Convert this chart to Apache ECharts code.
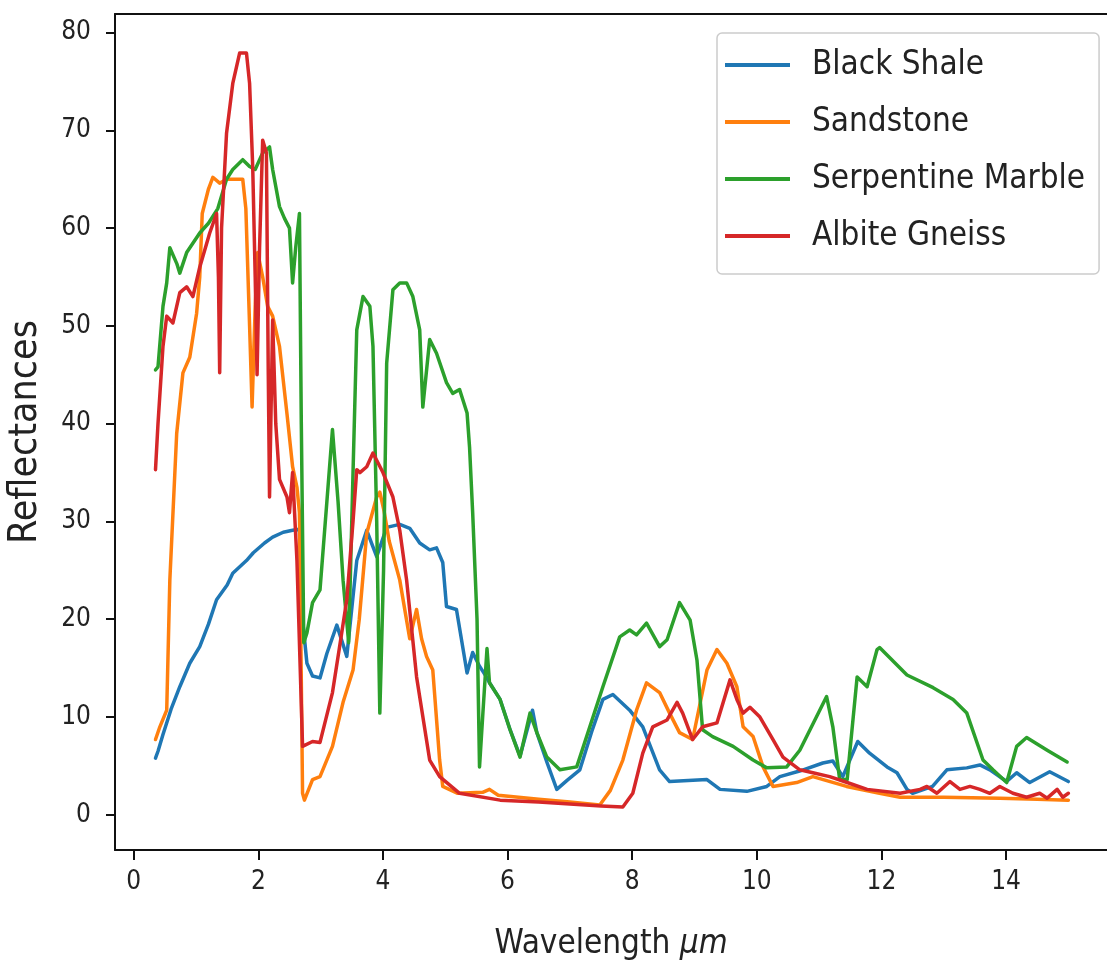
<!DOCTYPE html>
<html>
<head>
<meta charset="utf-8">
<title>Reflectance spectra</title>
<script src="https://cdn.jsdelivr.net/npm/echarts@6/dist/echarts.min.js"></script>
<style>
  html, body { margin: 0; padding: 0; background: #fff; }
  #chart { width: 1107px; height: 975px; }
</style>
</head>
<body>
<div id="chart"></div>
<script>
// Spectral reflectance (%) against wavelength (µm), one [wavelength, reflectance] list per rock.
const blackShale = [
  [0.35,5.8],[0.39,6.5],[0.47,8.2],[0.6,10.8],[0.74,13.1],[0.9,15.5],[1.06,17.2],[1.2,19.5],
  [1.33,22],[1.5,23.5],[1.59,24.7],[1.81,26],[1.92,26.8],[2.1,27.8],[2.23,28.4],[2.4,28.9],
  [2.55,29.1],[2.66,29.2],[2.71,20],[2.78,15.5],[2.87,14.2],[2.99,14],[3.1,16.5],[3.26,19.4],
  [3.42,16.2],[3.58,26],[3.74,29.1],[3.84,27.4],[3.9,26.4],[4.06,29.4],[4.27,29.7],[4.43,29.3],
  [4.59,27.8],[4.75,27.1],[4.86,27.3],[4.96,25.8],[5.02,21.3],[5.18,21],[5.35,14.5],[5.44,16.6],
  [5.55,15.2],[5.67,14],[5.71,13.5],[5.88,11.8],[6.04,8.7],[6.2,6],[6.4,10.7],[6.47,8.4],
  [6.63,5.4],[6.79,2.6],[6.95,3.5],[7.16,4.6],[7.35,8.5],[7.53,11.8],[7.69,12.3],[7.96,10.7],
  [8.17,9],[8.44,4.6],[8.6,3.4],[9.2,3.6],[9.41,2.6],[9.84,2.4],[10.16,2.9],[10.37,3.9],
  [10.7,4.5],[11.06,5.3],[11.22,5.5],[11.38,3.9],[11.62,7.5],[11.81,6.3],[12.09,4.9],[12.25,4.3],
  [12.41,2.6],[12.5,2.2],[12.82,2.9],[13.05,4.6],[13.37,4.8],[13.58,5.1],[13.74,4.6],[14.01,3.4],
  [14.17,4.3],[14.38,3.3],[14.7,4.4],[15.0,3.4]
];

const sandstone = [
  [0.35,7.7],[0.42,9],[0.53,10.7],[0.58,24],[0.69,39],[0.79,45.2],[0.9,46.8],[1.01,51.3],
  [1.06,55],[1.1,61.5],[1.2,64],[1.27,65.2],[1.38,64.6],[1.5,65],[1.59,65],[1.75,65],
  [1.8,62],[1.86,50],[1.9,41.7],[1.95,52],[1.99,57.5],[2.07,55],[2.15,52],[2.23,51],
  [2.34,47.9],[2.46,41],[2.55,35.6],[2.62,33.5],[2.66,30.9],[2.71,2.2],[2.74,1.5],[2.87,3.6],
  [2.99,3.9],[3.19,7],[3.36,11.5],[3.52,14.8],[3.62,20],[3.74,28.8],[3.9,32.5],[3.95,33],
  [4.02,31],[4.1,28],[4.27,24],[4.43,18],[4.54,21],[4.62,18],[4.7,16.2],[4.8,14.8],
  [4.91,5.6],[4.96,2.9],[5.2,2.2],[5.6,2.3],[5.71,2.6],[5.85,2.0],[6.5,1.6],[7.0,1.3],
  [7.48,1.0],[7.65,2.5],[7.85,5.6],[8.07,10.7],[8.23,13.5],[8.44,12.5],[8.6,10.4],[8.76,8.4],
  [8.97,7.7],[9.2,14.8],[9.36,16.9],[9.52,15.5],[9.68,13.1],[9.78,9],[9.94,8],[10.1,4.9],
  [10.26,2.9],[10.64,3.3],[10.9,3.9],[11.44,2.9],[11.97,2.2],[12.3,1.8],[13.0,1.8],[13.9,1.7],
  [14.5,1.6],[15.0,1.5]
];

const serpentineMarble = [
  [0.35,45.5],[0.39,45.8],[0.47,52],[0.53,54.4],[0.58,58],[0.69,56.4],[0.74,55.4],[0.85,57.5],
  [1.06,59.5],[1.2,60.5],[1.35,62],[1.49,65],[1.59,66],[1.75,67],[1.86,66.3],[1.95,66],
  [2.07,67.7],[2.18,68.3],[2.23,66],[2.34,62.2],[2.42,61],[2.5,60],[2.55,54.4],[2.6,58],
  [2.66,61.5],[2.69,40],[2.73,17.6],[2.78,18.6],[2.87,21.7],[2.99,23],[3.1,32],[3.19,39.4],
  [3.28,32],[3.36,24],[3.45,17.6],[3.52,35],[3.58,49.6],[3.68,53],[3.79,52],[3.84,47.9],
  [3.9,30],[3.95,10.4],[4.01,25],[4.06,46.2],[4.16,53.7],[4.27,54.4],[4.38,54.4],[4.48,53],
  [4.59,49.6],[4.64,41.7],[4.75,48.6],[4.86,47.2],[5.02,44.2],[5.12,43.1],[5.23,43.5],[5.35,41.1],
  [5.39,37.6],[5.44,30.9],[5.51,20],[5.55,4.9],[5.6,10],[5.67,17],[5.71,13.5],[5.88,11.8],
  [6.04,8.7],[6.2,5.9],[6.36,10.4],[6.47,8.4],[6.63,5.9],[6.84,4.6],[7.11,4.9],[7.32,9],
  [7.53,13.1],[7.8,18.2],[7.96,18.9],[8.07,18.4],[8.23,19.6],[8.44,17.2],[8.56,17.9],[8.76,21.7],
  [8.93,19.9],[9.04,15.8],[9.13,8.7],[9.29,8],[9.62,7],[9.94,5.6],[10.16,4.8],[10.48,4.9],
  [10.69,6.6],[11.12,12.1],[11.22,9],[11.33,3.6],[11.45,3.6],[11.61,14.1],[11.77,13.1],[11.93,16.9],
  [11.97,17.1],[12.41,14.3],[12.83,13],[13.15,11.8],[13.37,10.4],[13.63,5.6],[13.79,4.6],[14.01,3.3],
  [14.17,7],[14.33,7.9],[14.66,6.6],[14.98,5.4]
];

const albiteGneiss = [
  [0.35,35.3],[0.39,40],[0.47,47.9],[0.53,51],[0.63,50.3],[0.74,53.4],[0.85,54],[0.95,53],
  [1.06,56],[1.22,59.5],[1.33,61.5],[1.36,55],[1.38,45.2],[1.41,60],[1.49,69.7],[1.59,74.8],
  [1.7,77.9],[1.81,77.9],[1.86,74.8],[1.91,66.3],[1.95,55],[1.98,45],[2.02,58],[2.07,69],
  [2.13,67.7],[2.16,45],[2.18,32.5],[2.23,50.6],[2.28,40],[2.34,34.3],[2.46,32.5],[2.5,30.9],
  [2.55,35],[2.62,26],[2.71,7],[2.87,7.5],[2.99,7.4],[3.19,12.5],[3.3,17],[3.42,22],
  [3.52,30],[3.58,35.3],[3.63,35],[3.74,35.6],[3.84,37],[4.0,35],[4.16,32.5],[4.27,29.1],
  [4.38,24],[4.54,14.1],[4.75,5.6],[4.91,3.9],[5.23,2.2],[5.88,1.5],[6.5,1.3],[7.0,1.1],
  [7.5,0.9],[7.85,0.8],[8.01,2.2],[8.17,6.3],[8.33,9],[8.56,9.7],[8.72,11.5],[8.81,10.4],
  [8.97,7.7],[9.13,9],[9.36,9.4],[9.57,13.8],[9.68,11.8],[9.78,10.4],[9.89,11],[10.05,10],
  [10.26,7.7],[10.42,5.9],[10.69,4.6],[10.9,4.3],[11.17,3.9],[11.45,3.3],[11.77,2.6],[12.3,2.2],
  [12.62,2.6],[12.73,2.9],[12.89,2.2],[13.1,3.4],[13.26,2.6],[13.42,2.9],[13.58,2.6],[13.74,2.2],
  [13.9,2.9],[14.11,2.2],[14.33,1.8],[14.54,2.2],[14.66,1.7],[14.82,2.6],[14.91,1.8],[15.0,2.2]
];

const seriesNames = ['Black Shale', 'Sandstone', 'Serpentine Marble', 'Albite Gneiss'];
const seriesData = [blackShale, sandstone, serpentineMarble, albiteGneiss];
const seriesColors = ['#1f77b4', '#ff7f0e', '#2ca02c', '#d62728'];
const xTicks = [0, 2, 4, 6, 8, 10, 12, 14];
const yTicks = [0, 10, 20, 30, 40, 50, 60, 70, 80];

const FONT = '"DejaVu Sans Condensed", "DejaVu Sans", sans-serif';
const X_MIN = -0.3, X_MAX = 15.62;
const SPINE = { color: '#111', width: 2 };

const chart = echarts.init(document.getElementById('chart'), null, { renderer: 'canvas' });

chart.setOption({
  animation: false,
  backgroundColor: '#fff',
  textStyle: { fontFamily: FONT },
  grid: { left: 115, top: 14, right: 0, bottom: 125, show: false, containLabel: false, outerBoundsMode: 'none' },
  xAxis: [
    {
      type: 'value',
      position: 'bottom',
      min: X_MIN, max: X_MAX,
      name: 'Wavelength {i|μm}',
      nameLocation: 'middle',
      nameGap: 78,
      nameTextStyle: {
        fontFamily: FONT, fontSize: 33, color: '#222',
        rich: { i: { fontFamily: FONT, fontSize: 33, fontStyle: 'italic', color: '#222' } }
      },
      axisLine: { show: true, onZero: false, lineStyle: SPINE },
      axisTick: { show: true, inside: false, length: 10, lineStyle: SPINE, customValues: xTicks },
      axisLabel: { show: true, margin: 19, fontFamily: FONT, fontSize: 26, color: '#222', customValues: xTicks },
      splitLine: { show: false }
    },
    {
      // top spine of the plot frame
      type: 'value',
      position: 'top',
      min: X_MIN, max: X_MAX,
      axisLine: { show: true, onZero: false, lineStyle: SPINE },
      axisTick: { show: false },
      axisLabel: { show: false },
      splitLine: { show: false }
    }
  ],
  yAxis: {
    type: 'value',
    min: -3.6, max: 81.9,
    name: 'Reflectances',
    nameLocation: 'middle',
    nameGap: 70,
    nameRotate: 90,
    nameTextStyle: { fontFamily: FONT, fontSize: 39, color: '#222' },
    axisLine: { show: true, onZero: false, lineStyle: SPINE },
    axisTick: { show: true, inside: false, length: 9, lineStyle: SPINE, customValues: yTicks },
    axisLabel: { show: true, margin: 24, fontFamily: FONT, fontSize: 26, color: '#222', customValues: yTicks },
    splitLine: { show: false }
  },
  legend: {
    orient: 'vertical',
    left: 717, top: 33,
    padding: [15, 14, 21, 8],
    itemGap: 23,
    itemWidth: 65,
    itemHeight: 4,
    icon: 'rect',
    backgroundColor: 'rgba(255,255,255,0.8)',
    borderColor: '#cccccc',
    borderWidth: 1.5,
    borderRadius: 5,
    textStyle: {
      fontFamily: FONT, fontSize: 33, color: '#222',
      lineHeight: 34, width: 273, padding: [0, 0, 0, 17]
    },
    data: seriesNames
  },
  series: seriesNames.map((name, i) => ({
    name: name,
    type: 'line',
    xAxisIndex: 0,
    data: seriesData[i],
    showSymbol: false,
    symbol: 'none',
    smooth: false,
    clip: true,
    color: seriesColors[i],
    lineStyle: { color: seriesColors[i], width: 3.5, join: 'round', cap: 'round' },
    emphasis: { disabled: true },
    z: 2 + i
  }))
});
</script>
</body>
</html>
